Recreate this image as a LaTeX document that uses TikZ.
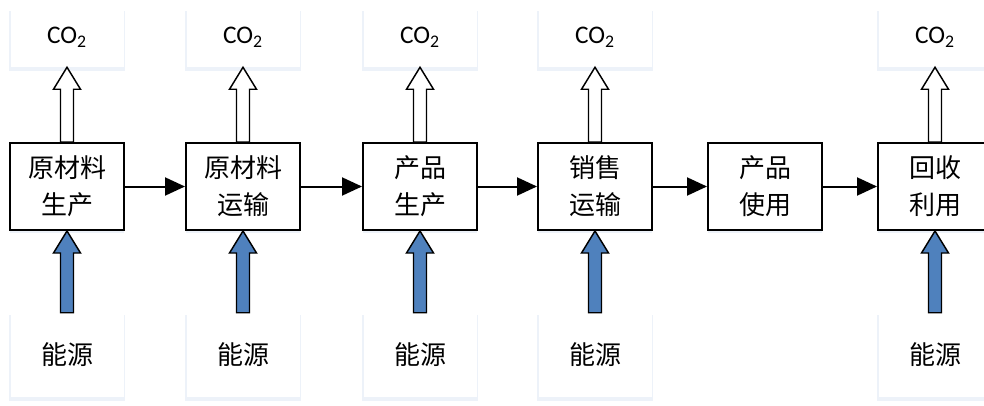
\documentclass[tikz,border=0pt]{standalone}
\usepackage{fontspec}
\setmainfont{Carlito}
\newfontfamily\cjk{Noto Sans CJK SC}
\usetikzlibrary{calc,shadows,arrows.meta}
\definecolor{energyblue}{RGB}{79,129,189}
\definecolor{shadowblue}{RGB}{220,230,244}
\newcommand\blockarrow[3]{\draw[#1] ($(#2)+(-6.5,0)$) -- ($(#3)+(-6.5,22)$) -- ($(#3)+(-13.5,22)$) -- (#3) -- ($(#3)+(13.5,22)$) -- ($(#3)+(6.5,22)$) -- ($(#2)+(6.5,0)$) -- cycle;}
\tikzset{
	stage/.style={draw, line width=1.5pt, fill=white, minimum width=85.5pt, minimum height=65.25pt, inner sep=0pt, align=center, font=\cjk\fontsize{19.5}{27.75}\selectfont, drop shadow={shadow xshift=0pt, shadow yshift=-2pt, fill=shadowblue}},
	outbox/.style={fill=white, minimum width=84.75pt, minimum height=44.25pt, inner sep=0pt, font=\fontsize{19}{22}\selectfont, drop shadow={shadow xshift=0pt, shadow yshift=-2.5pt, shadow scale=1.025, fill=shadowblue}},
	inbox/.style={fill=white, minimum width=84.75pt, minimum height=63pt, inner sep=0pt, font=\cjk\fontsize{19.5}{24}\selectfont, drop shadow={shadow xshift=0pt, shadow yshift=-2.5pt, shadow scale=1.025, fill=shadowblue}},
	flow/.style={line width=1.5pt, -{Triangle[length=15pt, width=13.5pt]}},
	gasarrow/.style={line width=1.1pt, line join=miter, fill=white},
	fuelarrow/.style={line width=1.1pt, line join=miter, fill=energyblue}
}

\begin{document}
\begin{tikzpicture}[x=0.75pt, y=-0.75pt]
		%%%%% START %%%%%
		\clip (0, 0) rectangle (984, 406);
		
		% stages
		\node[stage] (p1) at (67, 186.5) {原材料\\生产};
		\node[stage] (p2) at (243, 186.5) {原材料\\运输};
		\node[stage] (p3) at (420, 186.5) {产品\\生产};
		\node[stage] (p4) at (595, 186.5) {销售\\运输};
		\node[stage] (p5) at (765, 186.5) {产品\\使用};
		\node[stage] (p6) at (935, 186.5) {回收\\利用};
		
		% emissions
		\node[outbox] (c1) at (67, 37.5) {CO\textsubscript{2}};
		\node[outbox] (c2) at (243, 37.5) {CO\textsubscript{2}};
		\node[outbox] (c3) at (420, 37.5) {CO\textsubscript{2}};
		\node[outbox] (c4) at (595, 37.5) {CO\textsubscript{2}};
		\node[outbox] (c6) at (935, 37.5) {CO\textsubscript{2}};
		
		% energy
		\node[inbox] (e1) at (67, 355) {能源};
		\node[inbox] (e2) at (243, 355) {能源};
		\node[inbox] (e3) at (420, 355) {能源};
		\node[inbox] (e4) at (595, 355) {能源};
		\node[inbox] (e6) at (935, 355) {能源};
		
		\draw[flow] (p1) -- (p2);
		\draw[flow] (p2) -- (p3);
		\draw[flow] (p3) -- (p4);
		\draw[flow] (p4) -- (p5);
		\draw[flow] (p5) -- (p6);
		
		\blockarrow{gasarrow}{p1.north}{c1.south}
		\blockarrow{gasarrow}{p2.north}{c2.south}
		\blockarrow{gasarrow}{p3.north}{c3.south}
		\blockarrow{gasarrow}{p4.north}{c4.south}
		\blockarrow{gasarrow}{p6.north}{c6.south}
		
		\blockarrow{fuelarrow}{e1.north}{p1.south}
		\blockarrow{fuelarrow}{e2.north}{p2.south}
		\blockarrow{fuelarrow}{e3.north}{p3.south}
		\blockarrow{fuelarrow}{e4.north}{p4.south}
		\blockarrow{fuelarrow}{e6.north}{p6.south}
		%%%%% END %%%%%
\end{tikzpicture}
\end{document}
